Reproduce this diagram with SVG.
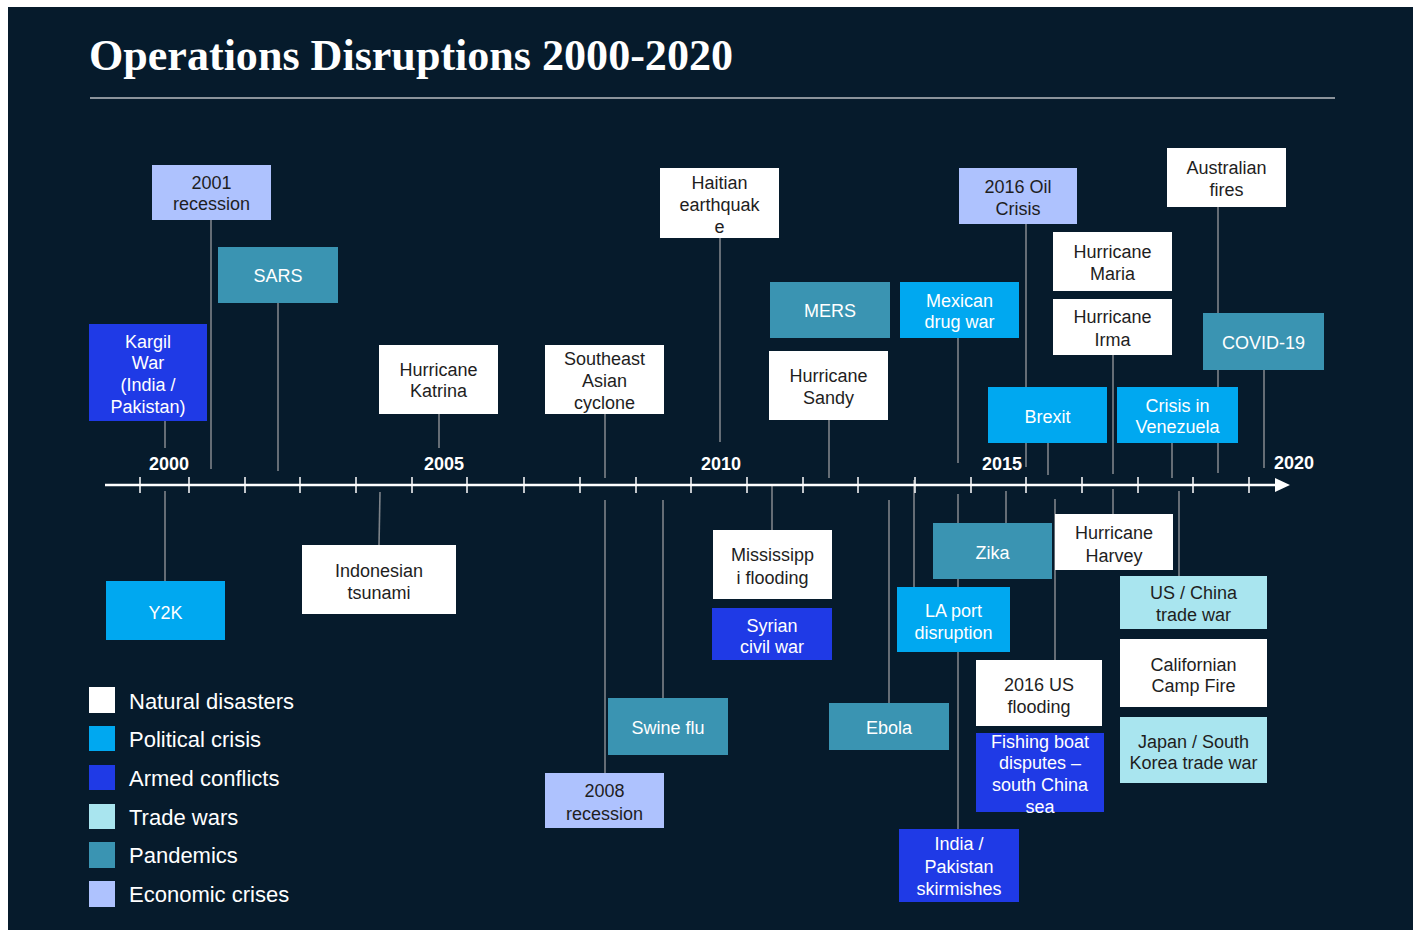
<svg xmlns="http://www.w3.org/2000/svg" width="1416" height="930" viewBox="0 0 1416 930">
<style>
.bg{fill:#061b2c}
.nat{fill:#ffffff}
.pol{fill:#00a8f0}
.arm{fill:#1f3ae6}
.trd{fill:#a9e5ef}
.pan{fill:#3a94b2}
.eco{fill:#aec2fe}
text{font-family:"Liberation Sans",Arial,sans-serif;font-size:18px;text-anchor:middle}
.tw{fill:#ffffff}
.td{fill:#1e1e1e}
.yr{font-weight:bold;fill:#ffffff;font-size:18px}
.leg{fill:#ffffff;font-size:22px;text-anchor:start}
.con line{stroke:#7d8389;stroke-width:1.6}
.axis line{stroke:#ffffff}
</style>
<rect width="1416" height="930" fill="#ffffff"/>
<rect class="bg" x="8" y="7" width="1405" height="923"/>
<g id="title">
<text x="89" y="70" style="font-family:'Liberation Serif','Times New Roman',serif;font-size:44px;font-weight:bold;text-anchor:start" fill="#ffffff" textLength="644" lengthAdjust="spacingAndGlyphs">Operations Disruptions 2000-2020</text>
<line x1="90" y1="98" x2="1335" y2="98" stroke="#b8bcc0" stroke-width="1.5"/>
</g>
<g id="connectors" class="con">
<line x1="211" y1="220" x2="211" y2="469"/>
<line x1="278" y1="303" x2="278" y2="471"/>
<line x1="165" y1="421" x2="165" y2="448"/>
<line x1="439" y1="414" x2="439" y2="448"/>
<line x1="605" y1="414" x2="605" y2="478"/>
<line x1="720" y1="238" x2="720" y2="442"/>
<line x1="829" y1="420" x2="829" y2="478"/>
<line x1="958" y1="338" x2="958" y2="463"/>
<line x1="1026" y1="224" x2="1026" y2="467"/>
<line x1="1218" y1="207" x2="1218" y2="473"/>
<line x1="1113" y1="355" x2="1113" y2="474"/>
<line x1="1264" y1="370" x2="1264" y2="468"/>
<line x1="1048" y1="443" x2="1048" y2="475"/>
<line x1="1172" y1="443" x2="1172" y2="478"/>
<line x1="165" y1="491" x2="165" y2="581"/>
<line x1="380" y1="492" x2="379" y2="545"/>
<line x1="605" y1="500" x2="605" y2="773"/>
<line x1="663" y1="500" x2="663" y2="698"/>
<line x1="772" y1="486" x2="772" y2="530"/>
<line x1="889" y1="500" x2="889" y2="703"/>
<line x1="914" y1="480" x2="914" y2="587"/>
<line x1="1006" y1="491" x2="1006" y2="523"/>
<line x1="958" y1="494" x2="958" y2="829"/>
<line x1="1113" y1="489" x2="1113" y2="514"/>
<line x1="1055" y1="499" x2="1055" y2="660"/>
<line x1="1179" y1="491" x2="1179" y2="576"/>
</g>
<g id="axis" class="axis">
<line x1="105" y1="485" x2="1276" y2="485" stroke-width="2.5"/>
<polygon points="1275,478 1290,485 1275,492" fill="#ffffff"/>
<g stroke-width="1.5">
<line x1="140" y1="477" x2="140" y2="493"/>
<line x1="189" y1="477" x2="189" y2="493"/>
<line x1="245" y1="477" x2="245" y2="493"/>
<line x1="300" y1="477" x2="300" y2="493"/>
<line x1="356" y1="477" x2="356" y2="493"/>
<line x1="412" y1="477" x2="412" y2="493"/>
<line x1="467" y1="477" x2="467" y2="493"/>
<line x1="524" y1="477" x2="524" y2="493"/>
<line x1="580" y1="477" x2="580" y2="493"/>
<line x1="636" y1="477" x2="636" y2="493"/>
<line x1="691" y1="477" x2="691" y2="493"/>
<line x1="747" y1="477" x2="747" y2="493"/>
<line x1="803" y1="477" x2="803" y2="493"/>
<line x1="858" y1="477" x2="858" y2="493"/>
<line x1="915" y1="477" x2="915" y2="493"/>
<line x1="971" y1="477" x2="971" y2="493"/>
<line x1="1026" y1="477" x2="1026" y2="493"/>
<line x1="1082" y1="477" x2="1082" y2="493"/>
<line x1="1138" y1="477" x2="1138" y2="493"/>
<line x1="1193" y1="477" x2="1193" y2="493"/>
<line x1="1249" y1="477" x2="1249" y2="493"/>
</g>
<text class="yr" x="169" y="470">2000</text>
<text class="yr" x="444" y="470">2005</text>
<text class="yr" x="721" y="470">2010</text>
<text class="yr" x="1002" y="470">2015</text>
<text class="yr" x="1294" y="469">2020</text>
</g>
<g id="rec2001"><rect class="eco" x="152" y="165" width="119" height="55"/><text class="td" x="211.5" y="188.5">2001</text><text class="td" x="211.5" y="209.5">recession</text></g>
<g id="sars"><rect class="pan" x="218" y="247" width="120" height="56"/><text class="tw" x="278" y="281.5">SARS</text></g>
<g id="kargil"><rect class="arm" x="89" y="324" width="118" height="97"/><text class="tw" x="148" y="347.5">Kargil</text><text class="tw" x="148" y="368.5">War</text><text class="tw" x="148" y="390.5">(India /</text><text class="tw" x="148" y="412.5">Pakistan)</text></g>
<g id="katrina"><rect class="nat" x="379" y="345" width="119" height="69"/><text class="td" x="438.5" y="375.5">Hurricane</text><text class="td" x="438.5" y="396.5">Katrina</text></g>
<g id="seasia"><rect class="nat" x="545" y="345" width="119" height="69"/><text class="td" x="604.5" y="364.5">Southeast</text><text class="td" x="604.5" y="386.5">Asian</text><text class="td" x="604.5" y="408.5">cyclone</text></g>
<g id="haiti"><rect class="nat" x="660" y="168" width="119" height="70"/><text class="td" x="719.5" y="188.5">Haitian</text><text class="td" x="719.5" y="210.5">earthquak</text><text class="td" x="719.5" y="232.5">e</text></g>
<g id="mers"><rect class="pan" x="770" y="282" width="120" height="56"/><text class="tw" x="830" y="316.5">MERS</text></g>
<g id="sandy"><rect class="nat" x="769" y="351" width="119" height="69"/><text class="td" x="828.5" y="381.5">Hurricane</text><text class="td" x="828.5" y="403.5">Sandy</text></g>
<g id="mexico"><rect class="pol" x="900" y="282" width="119" height="56"/><text class="tw" x="959.5" y="306.5">Mexican</text><text class="tw" x="959.5" y="327.5">drug war</text></g>
<g id="oil"><rect class="eco" x="959" y="168" width="118" height="56"/><text class="td" x="1018" y="192.5">2016 Oil</text><text class="td" x="1018" y="214.5">Crisis</text></g>
<g id="aus"><rect class="nat" x="1167" y="148" width="119" height="59"/><text class="td" x="1226.5" y="173.5">Australian</text><text class="td" x="1226.5" y="195.5">fires</text></g>
<g id="maria"><rect class="nat" x="1053" y="232" width="119" height="59"/><text class="td" x="1112.5" y="257.5">Hurricane</text><text class="td" x="1112.5" y="279.5">Maria</text></g>
<g id="irma"><rect class="nat" x="1053" y="299" width="119" height="56"/><text class="td" x="1112.5" y="322.5">Hurricane</text><text class="td" x="1112.5" y="345.5">Irma</text></g>
<g id="covid"><rect class="pan" x="1203" y="313" width="121" height="57"/><text class="tw" x="1263.5" y="348.5">COVID-19</text></g>
<g id="brexit"><rect class="pol" x="988" y="387" width="119" height="56"/><text class="tw" x="1047.5" y="422.5">Brexit</text></g>
<g id="venezuela"><rect class="pol" x="1117" y="387" width="121" height="56"/><text class="tw" x="1177.5" y="411.5">Crisis in</text><text class="tw" x="1177.5" y="432.5">Venezuela</text></g>
<g id="y2k"><rect class="pol" x="106" y="581" width="119" height="59"/><text class="tw" x="165.5" y="618.5">Y2K</text></g>
<g id="tsunami"><rect class="nat" x="302" y="545" width="154" height="69"/><text class="td" x="379" y="576.5">Indonesian</text><text class="td" x="379" y="598.5">tsunami</text></g>
<g id="rec2008"><rect class="eco" x="545" y="773" width="119" height="55"/><text class="td" x="604.5" y="796.5">2008</text><text class="td" x="604.5" y="819.5">recession</text></g>
<g id="swine"><rect class="pan" x="608" y="698" width="120" height="57"/><text class="tw" x="668" y="733.5">Swine flu</text></g>
<g id="mississippi"><rect class="nat" x="713" y="530" width="119" height="69"/><text class="td" x="772.5" y="560.5">Mississipp</text><text class="td" x="772.5" y="583.5">i flooding</text></g>
<g id="syria"><rect class="arm" x="712" y="608" width="120" height="52"/><text class="tw" x="772" y="631.5">Syrian</text><text class="tw" x="772" y="652.5">civil war</text></g>
<g id="ebola"><rect class="pan" x="829" y="703" width="120" height="47"/><text class="tw" x="889" y="733.5">Ebola</text></g>
<g id="laport"><rect class="pol" x="897" y="587" width="113" height="65"/><text class="tw" x="953.5" y="616.5">LA port</text><text class="tw" x="953.5" y="638.5">disruption</text></g>
<g id="zika"><rect class="pan" x="933" y="523" width="119" height="56"/><text class="tw" x="992.5" y="558.5">Zika</text></g>
<g id="india"><rect class="arm" x="899" y="829" width="120" height="73"/><text class="tw" x="959" y="849.5">India /</text><text class="tw" x="959" y="872.5">Pakistan</text><text class="tw" x="959" y="894.5">skirmishes</text></g>
<g id="harvey"><rect class="nat" x="1055" y="514" width="118" height="56"/><text class="td" x="1114" y="538.5">Hurricane</text><text class="td" x="1114" y="561.5">Harvey</text></g>
<g id="usflood"><rect class="nat" x="976" y="660" width="126" height="66"/><text class="td" x="1039" y="690.5">2016 US</text><text class="td" x="1039" y="712.5">flooding</text></g>
<g id="fishing"><rect class="arm" x="976" y="733" width="128" height="79"/><text class="tw" x="1040" y="747.5">Fishing boat</text><text class="tw" x="1040" y="768.5">disputes –</text><text class="tw" x="1040" y="790.5">south China</text><text class="tw" x="1040" y="812.5">sea</text></g>
<g id="uschina"><rect class="trd" x="1120" y="576" width="147" height="53"/><text class="td" x="1193.5" y="598.5">US / China</text><text class="td" x="1193.5" y="620.5">trade war</text></g>
<g id="campfire"><rect class="nat" x="1120" y="639" width="147" height="68"/><text class="td" x="1193.5" y="670.5">Californian</text><text class="td" x="1193.5" y="691.5">Camp Fire</text></g>
<g id="japan"><rect class="trd" x="1120" y="717" width="147" height="66"/><text class="td" x="1193.5" y="747.5">Japan / South</text><text class="td" x="1193.5" y="768.5">Korea trade war</text></g>
<g id="legend">
<rect class="nat" x="89" y="687" width="26" height="26"/><text class="leg" x="129" y="709">Natural disasters</text>
<rect class="pol" x="89" y="726" width="26" height="25"/><text class="leg" x="129" y="747">Political crisis</text>
<rect class="arm" x="89" y="765" width="26" height="25"/><text class="leg" x="129" y="786">Armed conflicts</text>
<rect class="trd" x="89" y="804" width="26" height="25"/><text class="leg" x="129" y="825">Trade wars</text>
<rect class="pan" x="89" y="842" width="26" height="26"/><text class="leg" x="129" y="863">Pandemics</text>
<rect class="eco" x="89" y="881" width="26" height="26"/><text class="leg" x="129" y="902">Economic crises</text>
</g>
</svg>
